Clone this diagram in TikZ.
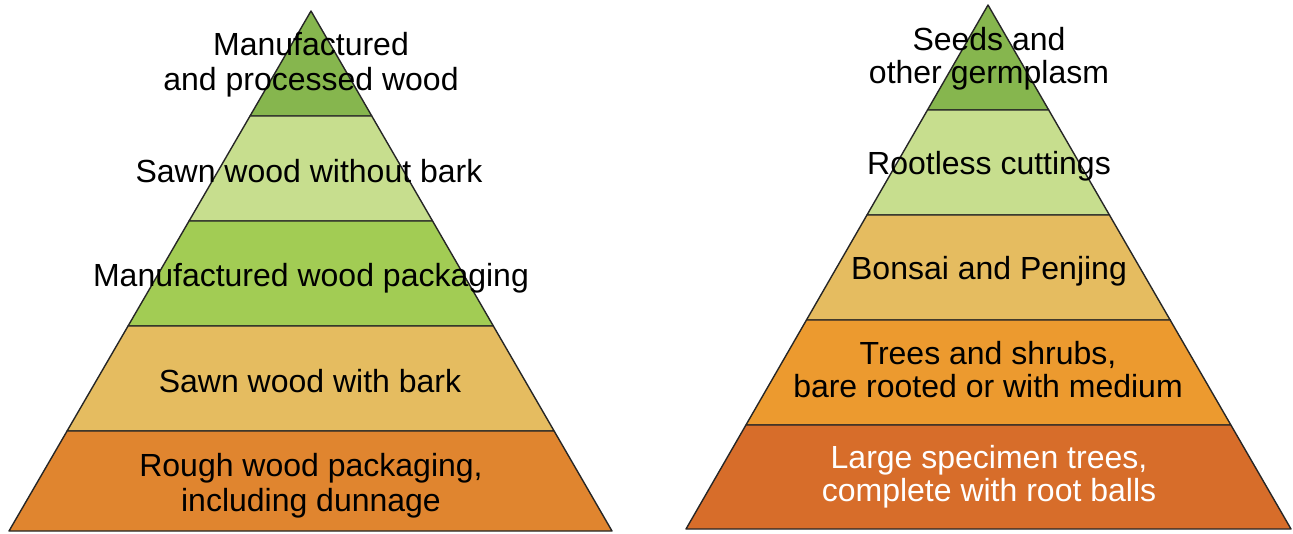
\documentclass[tikz,border=0pt]{standalone}
\usepackage{fontspec}
\setmainfont{Liberation Sans}
\usetikzlibrary{calc}
\definecolor{cTop}{HTML}{86B64E}
\definecolor{cLight}{HTML}{C7DE8E}
\definecolor{cGreen}{HTML}{A2CC54}
\definecolor{cTan}{HTML}{E5BC60}
\definecolor{cOrange}{HTML}{E0852F}
\definecolor{cOrangeB}{HTML}{EC9A2F}
\definecolor{cRust}{HTML}{D76D2A}
\tikzset{
  band/.style={draw=black!85, line width=1.4pt, line join=round},
  lbl/.style={align=center, font=\fontsize{32}{35}\selectfont, inner sep=0pt},
  rlbl/.style={align=center, font=\fontsize{32}{33}\selectfont, inner sep=0pt}
}
\begin{document}
\begin{tikzpicture}[x=1pt,y=-1pt]
\useasboundingbox (0,0) rectangle (1293,533);
% left pyramid
\coordinate (LA) at (311,11);
\coordinate (LL) at (9,531);
\coordinate (LR) at (612,531);
\foreach \ta/\tb/\col in {0/0.2019/cTop, 0.2019/0.4038/cLight, 0.4038/0.6058/cGreen, 0.6058/0.8077/cTan, 0.8077/1/cOrange}
  \filldraw[band, fill=\col] ($(LA)!\ta!(LL)$) -- ($(LA)!\tb!(LL)$) -- ($(LA)!\tb!(LR)$) -- ($(LA)!\ta!(LR)$) -- cycle;
% right pyramid
\coordinate (RA) at (988,5);
\coordinate (RL) at (686,529);
\coordinate (RR) at (1291,529);
\foreach \ta/\tb/\col in {0/0.2004/cTop, 0.2004/0.4008/cLight, 0.4008/0.6011/cTan, 0.6011/0.8015/cOrangeB, 0.8015/1/cRust}
  \filldraw[band, fill=\col] ($(RA)!\ta!(RL)$) -- ($(RA)!\tb!(RL)$) -- ($(RA)!\tb!(RR)$) -- ($(RA)!\ta!(RR)$) -- cycle;
% left labels
\node[lbl] (l1) at (311,65) {Manufactured\\and processed wood};
\node[lbl] (l2) at (309,171) {Sawn wood without bark};
\node[lbl] (l3) at (311,278) {Manufactured wood packaging};
\node[lbl] (l4) at (310,381) {Sawn wood with bark};
\node[lbl] (l5) at (311,486) {Rough wood packaging,\\including dunnage};
% right labels
\node[rlbl] (r1) at (989,59) {Seeds and\\other germplasm};
\node[rlbl] (r2) at (989,166) {Rootless cuttings};
\node[rlbl] (r3) at (989,271) {Bonsai and Penjing};
\node[rlbl] (r4) at (988,370) {Trees and shrubs,\\bare rooted or with medium};
\node[rlbl, text=white] (r5) at (989,477) {Large specimen trees,\\complete with root balls};
\end{tikzpicture}
\end{document}
